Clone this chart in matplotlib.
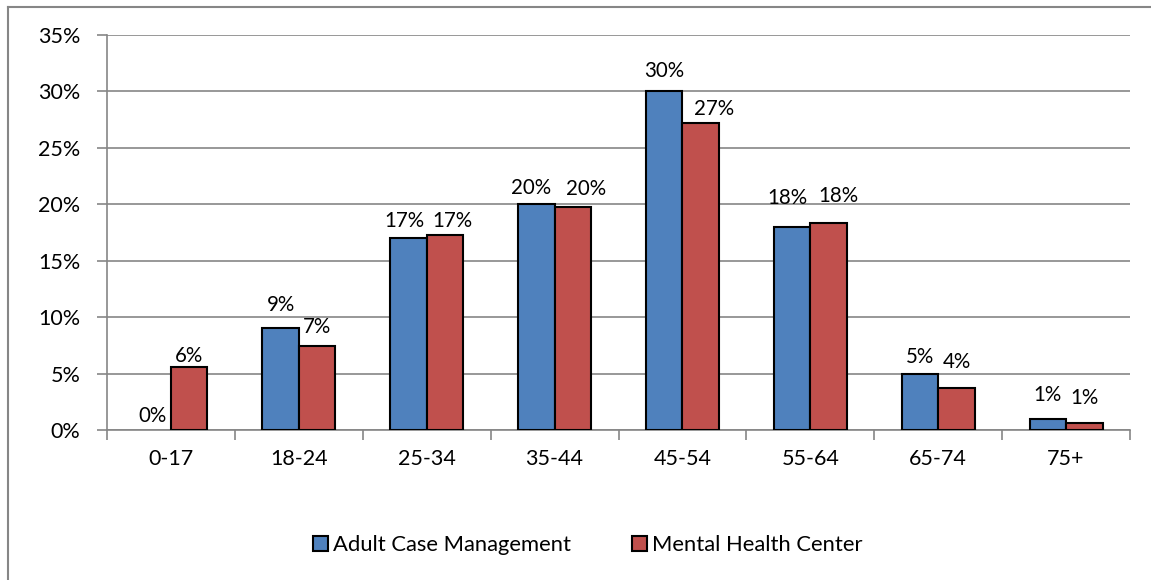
import matplotlib
matplotlib.use("Agg")
import matplotlib.pyplot as plt
import numpy as np
from matplotlib.lines import Line2D

categories = ["0-17", "18-24", "25-34", "35-44", "45-54", "55-64", "65-74", "75+"]
adult_case = [0.0, 9.0, 17.0, 20.0, 30.0, 18.0, 5.0, 1.0]
mental_health = [5.6, 7.4, 17.3, 19.8, 27.2, 18.3, 3.7, 0.6]
adult_labels = ["0%", "9%", "17%", "20%", "30%", "18%", "5%", "1%"]
mental_labels = ["6%", "7%", "17%", "20%", "27%", "18%", "4%", "1%"]
series_names = ["Adult Case Management", "Mental Health Center"]
yticks = [0, 5, 10, 15, 20, 25, 30, 35]

# label placement nudges (pixels): (dx, gap above bar to baseline)
adult_nudge = [(0, 8), (0, 17), (-4, 11), (-5, 10), (0, 14), (-5, 23), (0, 11), (0, 18)]
mental_nudge = [(0, 5), (0, 13), (7, 8), (13, 12), (13, 8), (10, 21), (0, 20), (0, 19)]

plt.rcParams['font.family'] = ['Lato', 'DejaVu Sans']
FS_TICK = 15.5
FS_LAB = 14.8
FS_LEG = 15.8

fig = plt.figure(figsize=(11.51, 5.80), dpi=100)
W, H = 1151, 580
ax = fig.add_axes([107 / W, 1 - 430 / H, (1130 - 107) / W, (430 - 35) / H])

x = np.arange(len(categories))
bw = 1 / 3.5
blue = "#4F81BD"
red = "#C0504D"
grid_c = "#868686"

b1 = ax.bar(x - bw / 2, adult_case, bw, color=blue, edgecolor="black",
            linewidth=[1.5 if v > 0 else 0 for v in adult_case], zorder=3)
b2 = ax.bar(x + bw / 2, mental_health, bw, color=red, edgecolor="black",
            linewidth=[1.5 if v > 0 else 0 for v in mental_health], zorder=3)

px2pt = 72 / 100
for bars, labels, nudges in ((b1, adult_labels, adult_nudge), (b2, mental_labels, mental_nudge)):
    for rect, lab, (dx, dy) in zip(bars, labels, nudges):
        ax.annotate(lab, (rect.get_x() + rect.get_width() / 2, rect.get_height()),
                    xytext=(dx * px2pt, dy * px2pt), textcoords="offset points",
                    ha="center", va="baseline", fontsize=FS_LAB)

ax.set_xlim(-0.5, len(categories) - 0.5)
ax.set_ylim(0, 35)
ax.set_yticks(yticks)
ax.set_yticklabels([f"{v}%" for v in yticks], fontsize=FS_TICK)
ax.yaxis.grid(True, color=grid_c, linewidth=1.2, zorder=0)
ax.set_axisbelow(True)

ax.set_xticks(x)
ax.set_xticklabels(categories, fontsize=FS_TICK)
ax.tick_params(axis="x", length=0, pad=14)
ax.set_xticks(np.arange(-0.5, len(categories) + 0.5, 1), minor=True)
ax.tick_params(axis="x", which="minor", length=7, color=grid_c, width=1.2)
ax.tick_params(axis="y", length=7, color=grid_c, width=1.2, pad=12)

for s in ["top", "right"]:
    ax.spines[s].set_visible(False)
for s in ["left", "bottom"]:
    ax.spines[s].set_color(grid_c)
    ax.spines[s].set_linewidth(1.2)

handles = [plt.Rectangle((0, 0), 1, 1, facecolor=blue, edgecolor="black", linewidth=1.5),
           plt.Rectangle((0, 0), 1, 1, facecolor=red, edgecolor="black", linewidth=1.5)]
fig.legend(handles, series_names, loc="center", bbox_to_anchor=(588 / W, 1 - 545 / H),
           ncol=2, frameon=False, fontsize=FS_LEG, handlelength=0.65, handleheight=0.65,
           handletextpad=0.25, columnspacing=2.8)

fig.add_artist(Line2D([8 / W, 8 / W], [0, 1 - 7 / H], transform=fig.transFigure, color=grid_c, linewidth=1.5))
fig.add_artist(Line2D([8 / W, 1], [1 - 7 / H, 1 - 7 / H], transform=fig.transFigure, color=grid_c, linewidth=1.5))

fig.savefig("out.png", dpi=100)
